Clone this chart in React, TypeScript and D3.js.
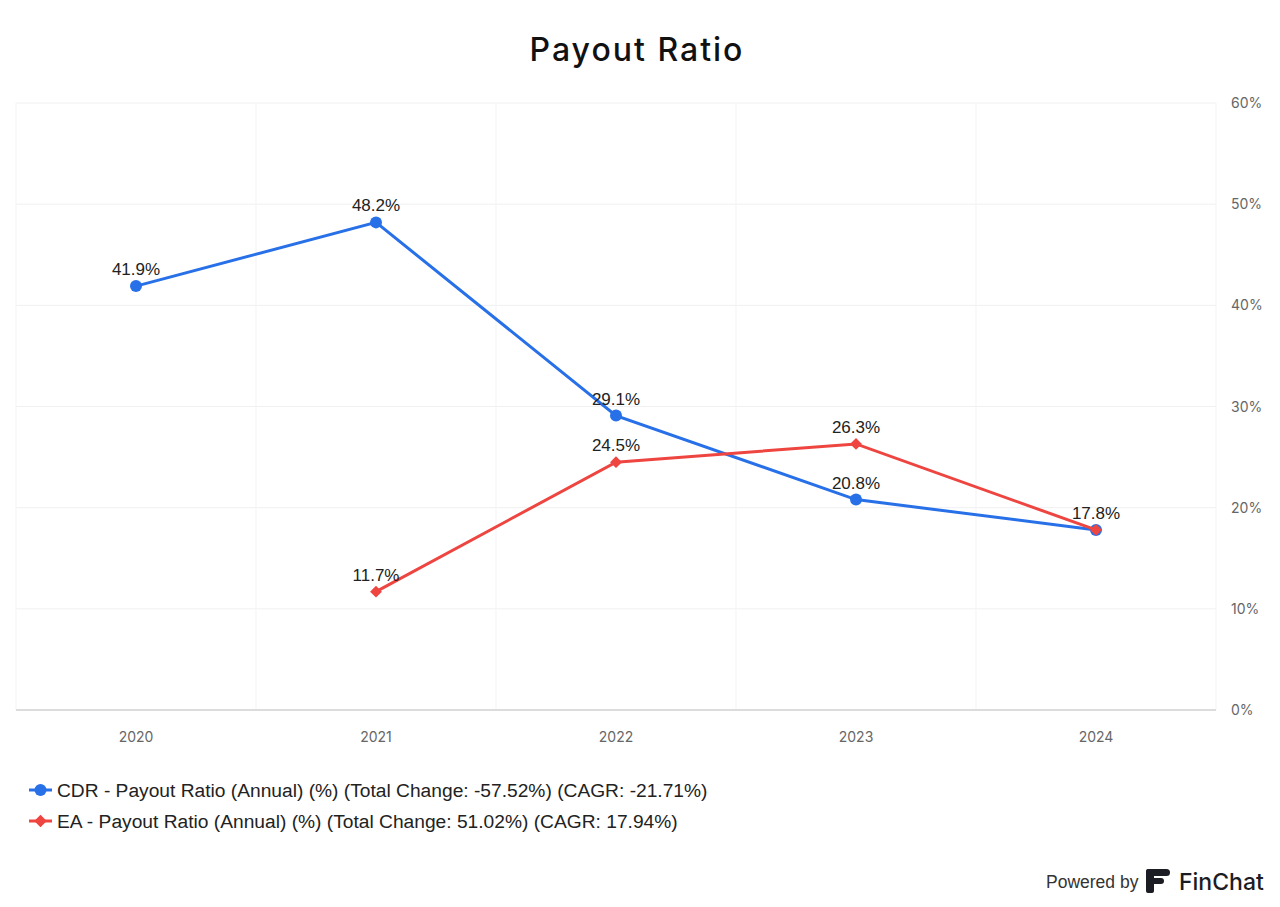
import React from "react";
import * as d3 from "d3";

const years = ["2020", "2021", "2022", "2023", "2024"];
const cdrValues: (number | null)[] = [41.9, 48.2, 29.1, 20.8, 17.8];
const eaValues: (number | null)[] = [null, 11.7, 24.5, 26.3, 17.8];
const yTicks = [0, 10, 20, 30, 40, 50, 60];
const legendLabels = [
  "CDR - Payout Ratio (Annual) (%) (Total Change: -57.52%) (CAGR: -21.71%)",
  "EA - Payout Ratio (Annual) (%) (Total Change: 51.02%) (CAGR: 17.94%)",
];
const BLUE = "#2870e8";
const RED = "#ee4540";

export default function App() {
  const W = 1280, H = 907;
  const left = 16, right = 1216, top = 103, bottom = 710;
  const x = d3.scaleBand<string>().domain(years).range([left, right]).paddingInner(0).paddingOuter(0);
  const y = d3.scaleLinear().domain([0, 60]).range([bottom, top]);
  const cx = (yr: string) => (x(yr) as number) + x.bandwidth() / 2;
  const line = d3.line<[string, number | null]>()
    .defined((d) => d[1] != null)
    .x((d) => cx(d[0]))
    .y((d) => y(d[1] as number));
  const cdr = years.map((yr, i) => [yr, cdrValues[i]] as [string, number | null]);
  const ea = years.map((yr, i) => [yr, eaValues[i]] as [string, number | null]);
  const labelFont = "'Liberation Sans', Arial, sans-serif";
  const axisFont = "Inter, 'DejaVu Sans', sans-serif";
  const diamond = d3.symbol().type(d3.symbolDiamond2).size(90)() as string;
  const diamondLegend = d3.symbol().type(d3.symbolDiamond2).size(100)() as string;

  return (
    <svg width={W} height={H} style={{ position: "absolute", left: 0, top: 0, background: "#fff" }}>
      <rect width={W} height={H} fill="#fff" />
      <text x={637} y={61} textAnchor="middle" fontFamily={axisFont} fontSize={32} fontWeight={500} letterSpacing={2} fill="#111">
        Payout Ratio
      </text>
      {/* grid */}
      {yTicks.filter((t) => t > 0).map((t) => (
        <line key={t} x1={left} x2={right} y1={y(t)} y2={y(t)} stroke="#f0f0f0" strokeWidth={1} />
      ))}
      {[...years.map((yr) => x(yr) as number), right].map((gx, i) => (
        <line key={i} x1={gx} x2={gx} y1={top} y2={bottom} stroke="#f3f3f3" strokeWidth={1} />
      ))}
      <line x1={left} x2={right} y1={bottom} y2={bottom} stroke="#dcdcdc" strokeWidth={2} />
      {yTicks.map((t) => (
        <text key={t} x={1231} y={y(t) + 5} fontFamily={axisFont} fontSize={14} fill="#666">
          {t}%
        </text>
      ))}
      {years.map((yr) => (
        <text key={yr} x={cx(yr)} y={742} textAnchor="middle" fontFamily={axisFont} fontSize={14} fill="#666">
          {yr}
        </text>
      ))}
      {/* CDR */}
      <path d={line(cdr) as string} fill="none" stroke={BLUE} strokeWidth={3} />
      {cdr.filter((d) => d[1] != null).map((d) => (
        <circle key={d[0]} cx={cx(d[0])} cy={y(d[1] as number)} r={6} fill={BLUE} />
      ))}
      {/* EA */}
      <path d={line(ea) as string} fill="none" stroke={RED} strokeWidth={3} />
      {ea.filter((d) => d[1] != null).map((d) => (
        <path key={d[0]} d={diamond} transform={`translate(${cx(d[0])},${y(d[1] as number)})`} fill={RED} />
      ))}
      {/* labels */}
      {cdr.filter((d) => d[1] != null).map((d) => (
        <text key={"c" + d[0]} x={cx(d[0])} y={y(d[1] as number) - 11} textAnchor="middle" fontFamily={labelFont} fontSize={17} fill="#222">
          {(d[1] as number).toFixed(1)}%
        </text>
      ))}
      {ea.filter((d) => d[1] != null && d[0] !== "2024").map((d) => (
        <text key={"e" + d[0]} x={cx(d[0])} y={y(d[1] as number) - 11} textAnchor="middle" fontFamily={labelFont} fontSize={17} fill="#222">
          {(d[1] as number).toFixed(1)}%
        </text>
      ))}
      {/* legend */}
      {legendLabels.map((lab, i) => {
        const ly = 790 + i * 31;
        return (
          <g key={i}>
            <line x1={29} x2={52} y1={ly} y2={ly} stroke={i === 0 ? BLUE : RED} strokeWidth={3} />
            {i === 0 ? (
              <circle cx={40.5} cy={ly} r={6} fill={BLUE} />
            ) : (
              <path d={diamondLegend} transform={`translate(40.5,${ly})`} fill={RED} />
            )}
            <text x={57} y={ly + 7} fontFamily={labelFont} fontSize={19.2} fill="#222">
              {lab}
            </text>
          </g>
        );
      })}
      {/* powered by */}
      <text x={1046} y={888} fontFamily={labelFont} fontSize={17.5} fill="#333">Powered by</text>
      <g transform="translate(1146,869)">
        <rect x={0} y={0} width={24} height={7} rx={3.5} fill="#1c1c24" />
        <rect x={0} y={0} width={8} height={24} rx={2} fill="#1c1c24" />
        <rect x={0} y={9} width={18} height={6} rx={3} fill="#1c1c24" />
      </g>
      <text x={1179} y={890} fontFamily={axisFont} fontSize={23} fontWeight={500} fill="#1c1c24">FinChat</text>
    </svg>
  );
}
